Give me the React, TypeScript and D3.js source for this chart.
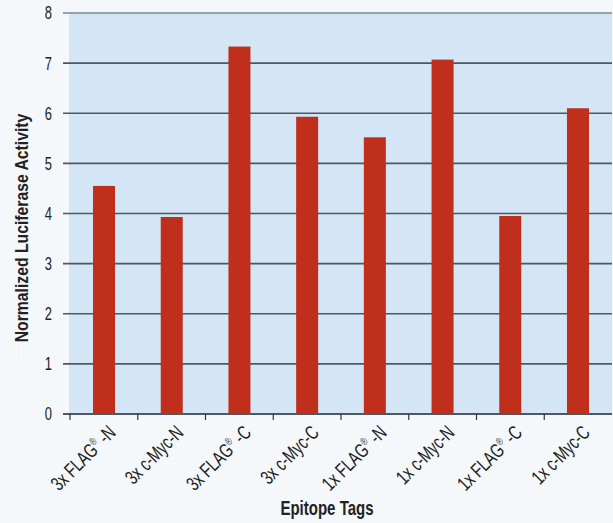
import React from "react";
import * as d3 from "d3";

const categories = ["3x FLAG®-N", "3x c-Myc-N", "3x FLAG®-C", "3x c-Myc-C", "1x FLAG®-N", "1x c-Myc-N", "1x FLAG®-C", "1x c-Myc-C"];
const values = [4.55, 3.93, 7.33, 5.93, 5.52, 7.07, 3.95, 6.1];
const yTicks = [0, 1, 2, 3, 4, 5, 6, 7, 8];
const yTitle = "Normalized Luciferase Activity";
const xTitle = "Epitope Tags";

const W = 613, H = 523;
const left = 69, right = 612, top = 13, bottom = 414;
const FONT = "'Liberation Sans', Arial, sans-serif";

function Label({ text }: { text: string }) {
  const parts = text.split("®");
  if (parts.length === 1) return <>{text}</>;
  return (
    <>
      <tspan>{parts[0]}</tspan>
      <tspan fontSize={11} dy={-8}>®</tspan>
      <tspan dy={8}>{" " + parts[1]}</tspan>
    </>
  );
}

export default function App() {
  const x = d3.scaleBand<string>().domain(categories).range([left + 1, right]).paddingInner(0.675).paddingOuter(0.34);
  const xb = d3.scaleBand<string>().domain(categories).range([left + 1, right]);
  const y = d3.scaleLinear().domain([0, 8]).range([bottom, top]);
  return (
    <svg width={W} height={H} style={{ position: "absolute", left: 0, top: 0, fontFamily: FONT }}>
      <rect x={0} y={0} width={W} height={H} fill="#f4f8fb" />
      <rect x={left} y={top} width={right - left} height={bottom - top} fill="#d4e6f5" />
      {yTicks.map((t) => (
        <g key={t}>
          <line x1={63} x2={right} y1={y(t)} y2={y(t)} stroke={t === 8 ? "#7c8690" : "#4f5862"} strokeWidth={t === 0 ? 2 : 1.6} />
          <text transform={`translate(52,${y(t)}) scale(0.72,1)`} dy="0.36em" textAnchor="end" fontSize={18} fill="#222">{t}</text>
        </g>
      ))}
      {categories.map((c, i) => (
        <rect key={c} x={x(c)} y={y(values[i])} width={x.bandwidth()} height={y(0) - y(values[i])} fill="#bf2f1b" />
      ))}
      {categories.map((c) => (
        <line key={c} x1={xb(c)} x2={xb(c)} y1={bottom} y2={bottom + 6} stroke="#333" strokeWidth={1.2} />
      ))}
      {categories.map((c) => {
        const cx = (xb(c) as number) + xb.bandwidth() / 2 + 13;
        const cy = 434;
        return (
          <text key={c} transform={`translate(${cx},${cy}) rotate(-45) scale(0.72,1)`} textAnchor="end" fontSize={20} fill="#222">
            <Label text={c} />
          </text>
        );
      })}
      <text transform="translate(28,228) rotate(-90) scale(0.83,1)" textAnchor="middle" fontSize={19} fontWeight="bold" fill="#222">{yTitle}</text>
      <line x1={21.5} x2={21.5} y1={346} y2={358} stroke="#ffffff" strokeWidth={1} />
      <text transform="translate(327,515) scale(0.77,1)" textAnchor="middle" fontSize={19.5} fontWeight="bold" fill="#222">{xTitle}</text>
    </svg>
  );
}
